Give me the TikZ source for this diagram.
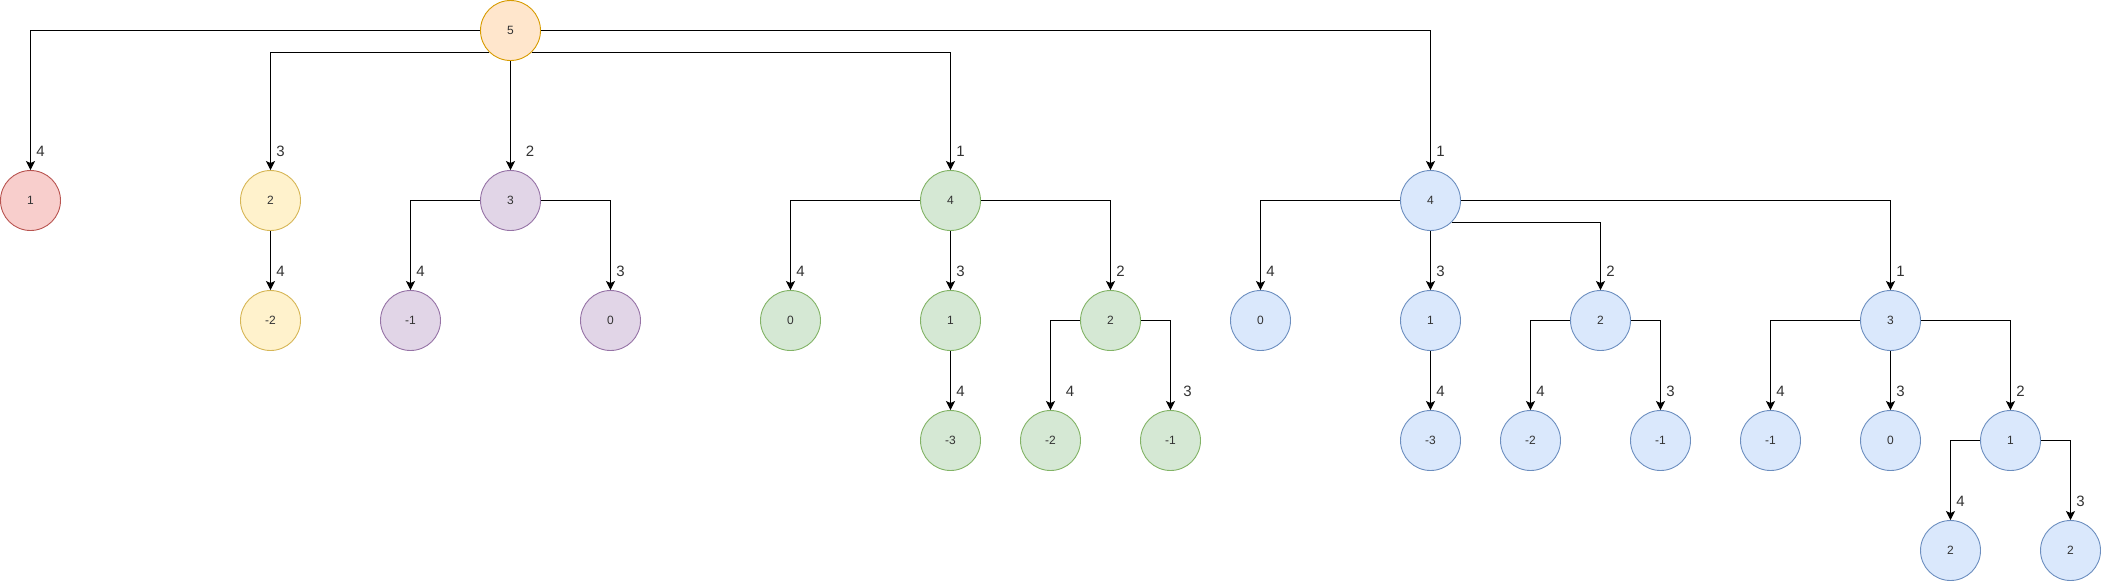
\documentclass[tikz,border=0pt]{standalone}
\usepackage{fontspec}
\setmainfont{Liberation Sans}
\usetikzlibrary{arrows.meta}

\definecolor{orfill}{HTML}{FFE6CC}\definecolor{ordraw}{HTML}{D79B00}
\definecolor{rdfill}{HTML}{F8CECC}\definecolor{rddraw}{HTML}{B85450}
\definecolor{ylfill}{HTML}{FFF2CC}\definecolor{yldraw}{HTML}{D6B656}
\definecolor{pufill}{HTML}{E1D5E7}\definecolor{pudraw}{HTML}{9673A6}
\definecolor{gnfill}{HTML}{D5E8D4}\definecolor{gndraw}{HTML}{82B366}
\definecolor{blfill}{HTML}{DAE8FC}\definecolor{bldraw}{HTML}{6C8EBF}

\tikzset{
  vert/.style={circle, minimum size=60pt, inner sep=0pt, line width=0.9pt,
    text=black!80, font=\fontsize{12}{14}\selectfont},
  orv/.style={vert, draw=ordraw, fill=orfill},
  rdv/.style={vert, draw=rddraw, fill=rdfill},
  ylv/.style={vert, draw=yldraw, fill=ylfill},
  puv/.style={vert, draw=pudraw, fill=pufill},
  gnv/.style={vert, draw=gndraw, fill=gnfill},
  blv/.style={vert, draw=bldraw, fill=blfill},
  link/.style={line width=1pt, -{Stealth[length=9pt, width=9pt, inset=2pt]}},
  cost/.style={inner sep=0pt, text=black!80, font=\fontsize{15}{18}\selectfont}
}

\begin{document}
\begin{tikzpicture}[x=1pt, y=-1pt]
\useasboundingbox (0,0) rectangle (2101,581);
\begin{scope}[shift={(0.5,0.5)}]

% root
\node[orv] (root) at (510,30) {5};

% first level
\node[rdv] (red1) at (30,200) {1};
\node[ylv] (yel2) at (270,200) {2};
\node[puv] (pur3) at (510,200) {3};
\node[gnv] (grn4) at (950,200) {4};
\node[blv] (blu4) at (1430,200) {4};

\draw[link] (root.west) -| (red1);
\draw[link] (root.south west) -| (yel2);
\draw[link] (root) -- (pur3);
\draw[link] (root.south east) -| (grn4);
\draw[link] (root.east) -| (blu4);
\node[cost] (c1) at ([xshift=10pt, yshift=19pt]red1.north) {4};
\node[cost] (c2) at ([xshift=10pt, yshift=19pt]yel2.north) {3};
\node[cost] (c3) at ([xshift=19.5pt, yshift=19pt]pur3.north) {2};
\node[cost] (c4) at ([xshift=10pt, yshift=19pt]grn4.north) {1};
\node[cost] (c5) at ([xshift=10pt, yshift=19pt]blu4.north) {1};

% yellow
\node[ylv] (yelm2) at (270,320) {-2};
\draw[link] (yel2) -- (yelm2);
\node[cost] (c6) at ([xshift=10pt, yshift=19pt]yelm2.north) {4};

% purple
\node[puv] (purm1) at (410,320) {-1};
\node[puv] (pur0) at (610,320) {0};
\draw[link] (pur3.west) -| (purm1);
\draw[link] (pur3.east) -| (pur0);
\node[cost] (c7) at ([xshift=10pt, yshift=19pt]purm1.north) {4};
\node[cost] (c8) at ([xshift=10pt, yshift=19pt]pur0.north) {3};

% green
\node[gnv] (grn0) at (790,320) {0};
\node[gnv] (grn1) at (950,320) {1};
\node[gnv] (grn2) at (1110,320) {2};
\node[gnv] (grnm3) at (950,440) {-3};
\node[gnv] (grnm2) at (1050,440) {-2};
\node[gnv] (grnm1) at (1170,440) {-1};
\draw[link] (grn4.west) -| (grn0);
\draw[link] (grn4) -- (grn1);
\draw[link] (grn4.east) -| (grn2);
\draw[link] (grn1) -- (grnm3);
\draw[link] (grn2.west) -| (grnm2);
\draw[link] (grn2.east) -| (grnm1);
\node[cost] (c9) at ([xshift=10pt, yshift=19pt]grn0.north) {4};
\node[cost] (c10) at ([xshift=10pt, yshift=19pt]grn1.north) {3};
\node[cost] (c11) at ([xshift=10pt, yshift=19pt]grn2.north) {2};
\node[cost] (c12) at ([xshift=10pt, yshift=19pt]grnm3.north) {4};
\node[cost] (c13) at ([xshift=19.5pt, yshift=19pt]grnm2.north) {4};
\node[cost] (c14) at ([xshift=17pt, yshift=19pt]grnm1.north) {3};

% blue
\node[blv] (blu0) at (1260,320) {0};
\node[blv] (blu1) at (1430,320) {1};
\node[blv] (blu2) at (1600,320) {2};
\node[blv] (blu3) at (1890,320) {3};
\node[blv] (blum3) at (1430,440) {-3};
\node[blv] (blum2) at (1530,440) {-2};
\node[blv] (blum1a) at (1660,440) {-1};
\node[blv] (blum1b) at (1770,440) {-1};
\node[blv] (bluzero) at (1890,440) {0};
\node[blv] (bluone) at (2010,440) {1};
\node[blv] (blutwoa) at (1950,550) {2};
\node[blv] (blutwob) at (2070,550) {2};
\draw[link] (blu4.west) -| (blu0);
\draw[link] (blu4) -- (blu1);
\draw[link] (blu4.south east) -| (blu2);
\draw[link] (blu4.east) -| (blu3);
\draw[link] (blu1) -- (blum3);
\draw[link] (blu2.west) -| (blum2);
\draw[link] (blu2.east) -| (blum1a);
\draw[link] (blu3.west) -| (blum1b);
\draw[link] (blu3) -- (bluzero);
\draw[link] (blu3.east) -| (bluone);
\draw[link] (bluone.west) -| (blutwoa);
\draw[link] (bluone.east) -| (blutwob);
\node[cost] (c15) at ([xshift=10pt, yshift=19pt]blu0.north) {4};
\node[cost] (c16) at ([xshift=10pt, yshift=19pt]blu1.north) {3};
\node[cost] (c17) at ([xshift=10pt, yshift=19pt]blu2.north) {2};
\node[cost] (c18) at ([xshift=10pt, yshift=19pt]blu3.north) {1};
\node[cost] (c19) at ([xshift=10pt, yshift=19pt]blum3.north) {4};
\node[cost] (c20) at ([xshift=10pt, yshift=19pt]blum2.north) {4};
\node[cost] (c21) at ([xshift=10pt, yshift=19pt]blum1a.north) {3};
\node[cost] (c22) at ([xshift=10pt, yshift=19pt]blum1b.north) {4};
\node[cost] (c23) at ([xshift=10pt, yshift=19pt]bluzero.north) {3};
\node[cost] (c24) at ([xshift=10pt, yshift=19pt]bluone.north) {2};
\node[cost] (c25) at ([xshift=10pt, yshift=19pt]blutwoa.north) {4};
\node[cost] (c26) at ([xshift=10pt, yshift=19pt]blutwob.north) {3};
\end{scope}
\end{tikzpicture}
\end{document}
